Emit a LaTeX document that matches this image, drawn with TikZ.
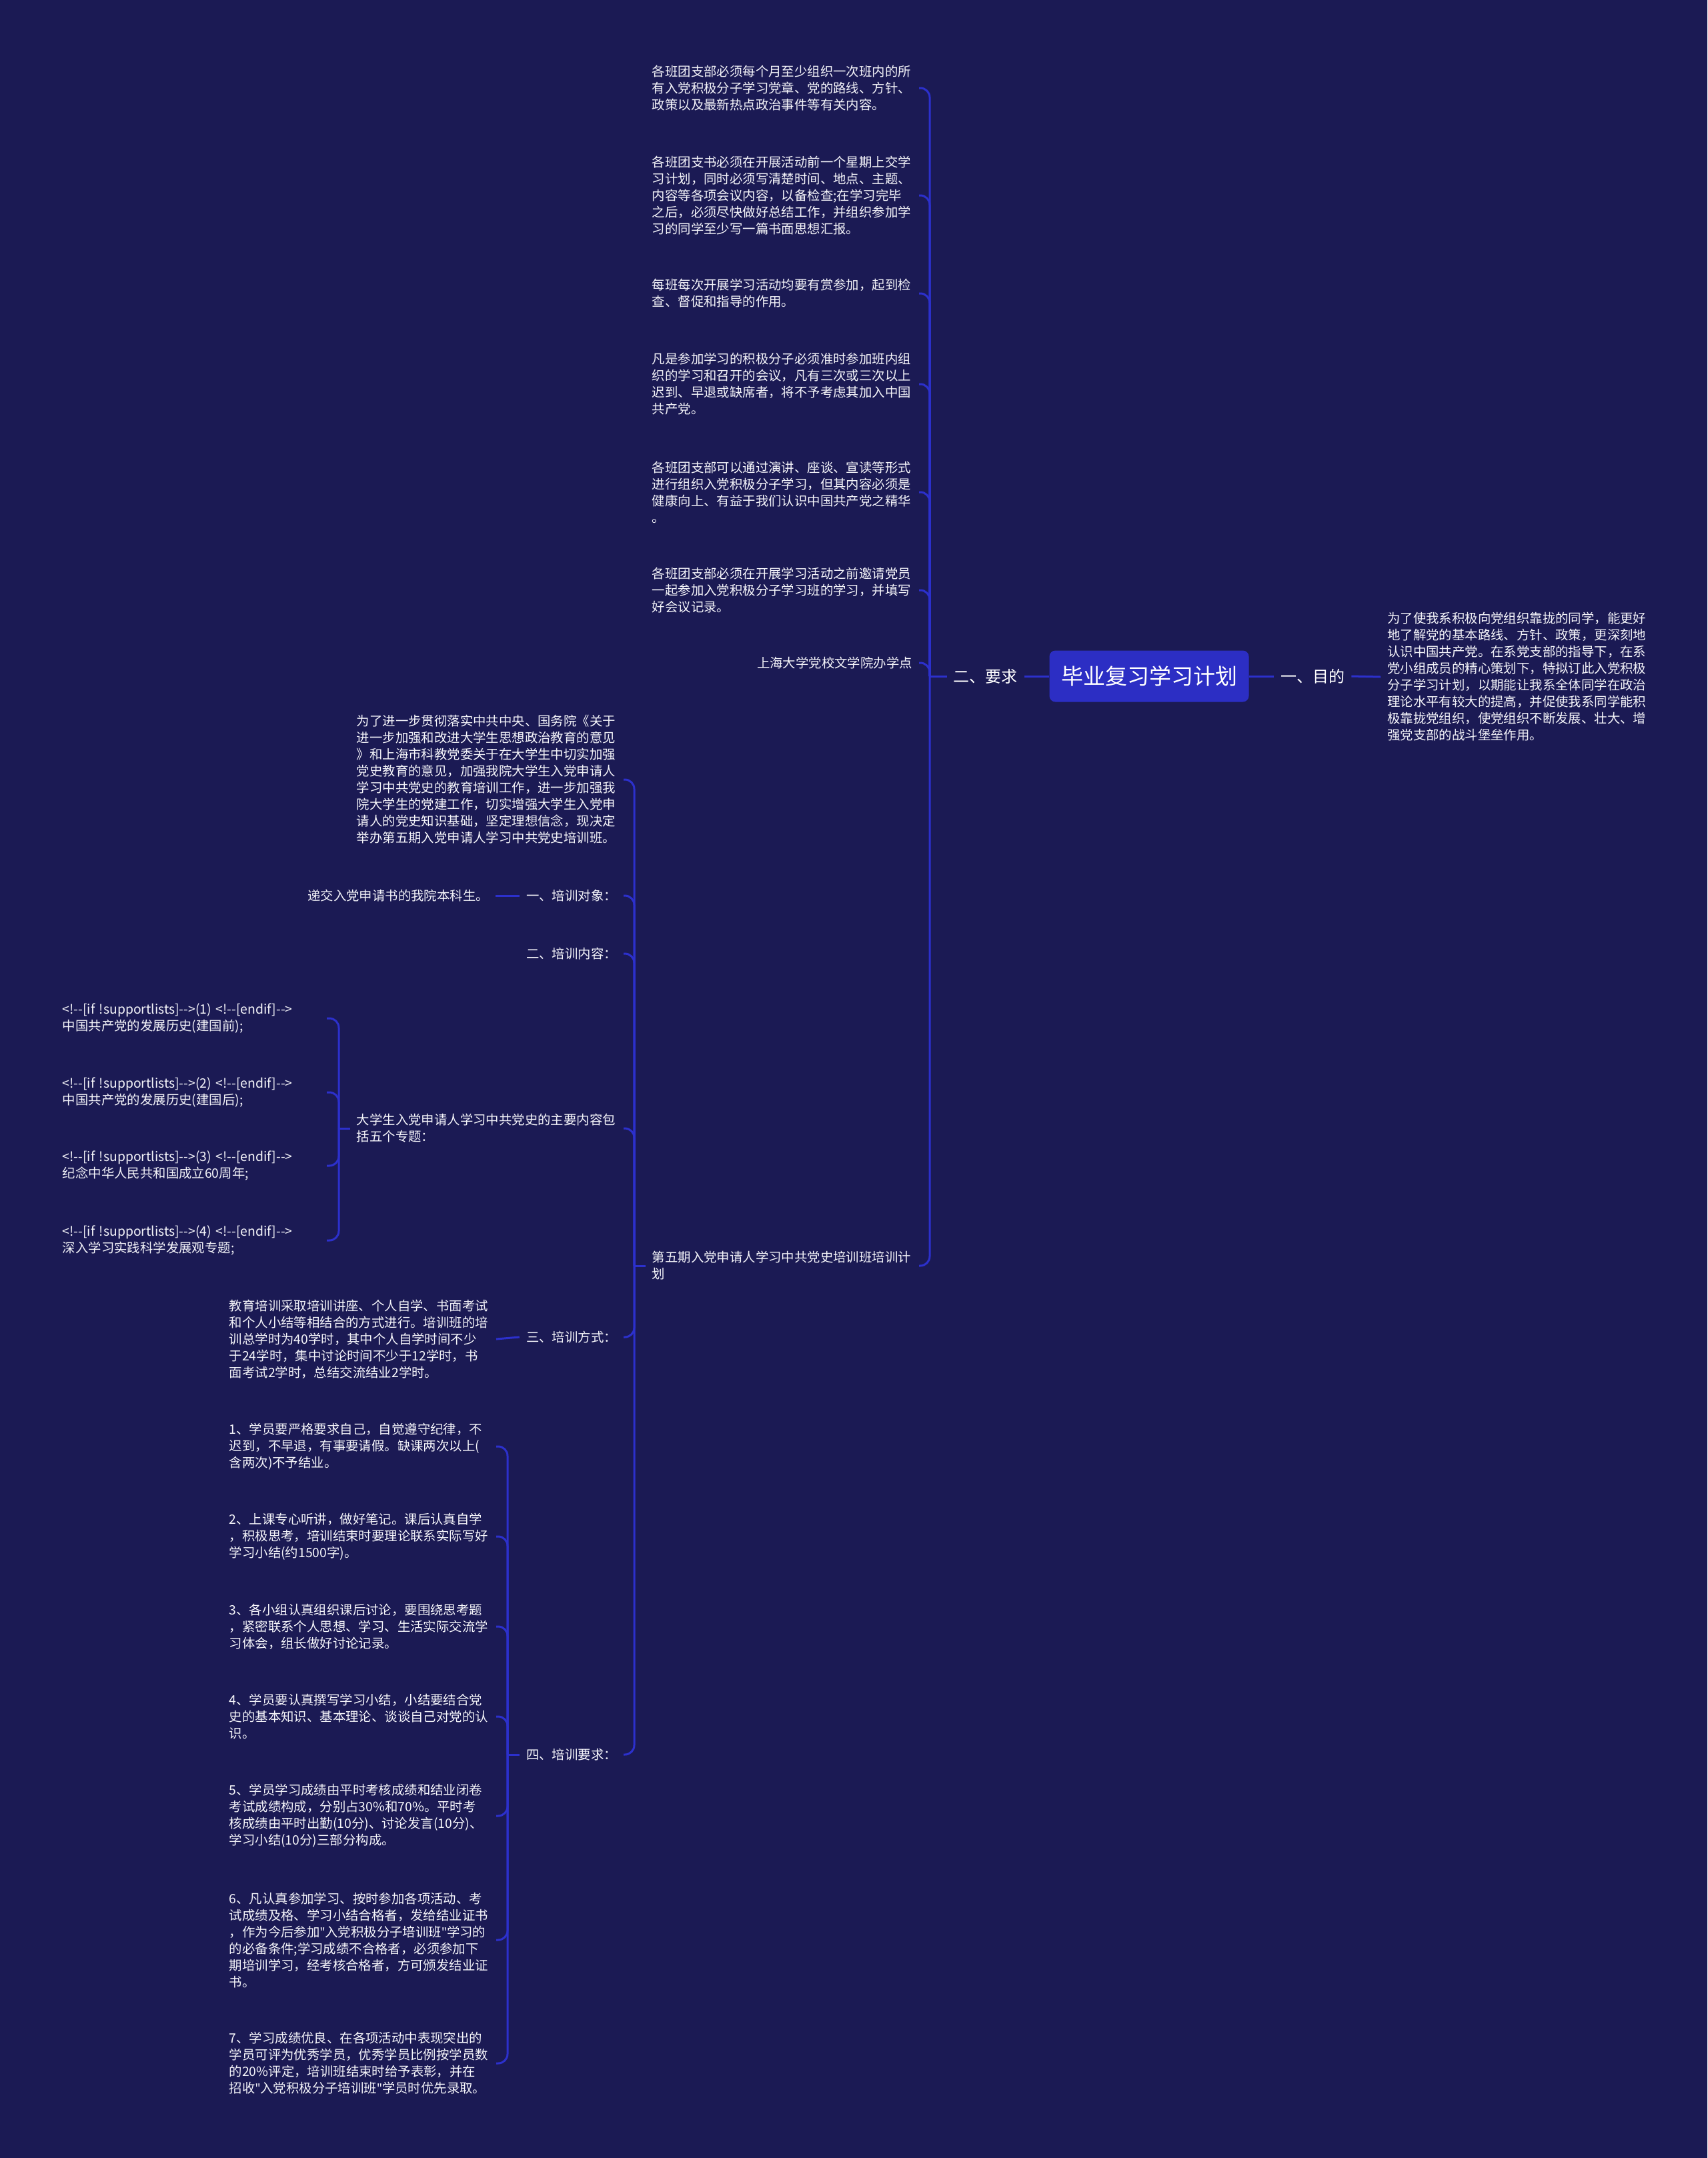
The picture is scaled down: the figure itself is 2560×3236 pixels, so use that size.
\documentclass[tikz,border=0pt]{standalone}
\usepackage{fontspec}
\setmainfont{Noto Sans CJK SC}
\newfontfamily\latf{Noto Sans}
\newcommand{\dsh}{-\kern0pt-}
\newcommand{\qt}{{\latf"}}
\definecolor{bgc}{RGB}{27,26,84}
\definecolor{rootc}{RGB}{44,46,196}
\definecolor{lc}{RGB}{44,48,204}
\definecolor{tc}{RGB}{245,245,250}
\begin{document}
\begin{tikzpicture}[x=1pt,y=-1pt,
  txt/.style={text=tc, font=\fontsize{19.4}{25}\selectfont, inner xsep=10pt, inner ysep=4pt, align=left},
  para/.style={txt, text width=390pt},
  cpara/.style={txt, text width=386pt},
  lvl/.style={text=white, font=\fontsize{24}{28}\selectfont, inner xsep=10pt, inner ysep=4pt},
  rootbox/.style={fill=rootc, rounded corners=9pt, minimum width=299pt, minimum height=77pt, text=white, font=\fontsize{33}{36}\selectfont, inner sep=0pt},
  conn/.style={draw=lc, line width=3pt, rounded corners=14pt}]
\fill[bgc] (0,0) rectangle (2560,3236);
\useasboundingbox (0,0) rectangle (2560,3236);

% root and first level
\node[rootbox] (root) at (1723,1014) {毕业复习学习计划};
\node[lvl, anchor=east] (yq) at (1536,1014) {二、要求};
\node[lvl, anchor=west] (mb) at (1910,1014) {一、目的};
\node[para, anchor=west] (mbt) at (2070,1015) {为了使我系积极向党组织靠拢的同学，能更好\\地了解党的基本路线、方针、政策，更深刻地\\认识中国共产党。在系党支部的指导下，在系\\党小组成员的精心策划下，特拟订此入党积极\\分子学习计划，以期能让我系全体同学在政治\\理论水平有较大的提高，并促使我系同学能积\\极靠拢党组织，使党组织不断发展、壮大、增\\强党支部的战斗堡垒作用。};

% children of 二、要求
\node[para, anchor=east] (r1) at (1378,132) {各班团支部必须每个月至少组织一次班内的所\\有入党积极分子学习党章、党的路线、方针、\\政策以及最新热点政治事件等有关内容。};
\node[para, anchor=east] (r2) at (1378,293) {各班团支书必须在开展活动前一个星期上交学\\习计划，同时必须写清楚时间、地点、主题、\\内容等各项会议内容，以备检查;在学习完毕\\之后，必须尽快做好总结工作，并组织参加学\\习的同学至少写一篇书面思想汇报。};
\node[para, anchor=east] (r3) at (1378,440) {每班每次开展学习活动均要有赏参加，起到检\\查、督促和指导的作用。};
\node[para, anchor=east] (r4) at (1378,576) {凡是参加学习的积极分子必须准时参加班内组\\织的学习和召开的会议，凡有三次或三次以上\\迟到、早退或缺席者，将不予考虑其加入中国\\共产党。};
\node[para, anchor=east] (r5) at (1378,738) {各班团支部可以通过演讲、座谈、宣读等形式\\进行组织入党积极分子学习，但其内容必须是\\健康向上、有益于我们认识中国共产党之精华\\。};
\node[para, anchor=east] (r6) at (1378,885) {各班团支部必须在开展学习活动之前邀请党员\\一起参加入党积极分子学习班的学习，并填写\\好会议记录。};
\node[txt, anchor=east] (r7) at (1378,994) {上海大学党校文学院办学点};
\node[para, anchor=east] (r8) at (1378,1898) {第五期入党申请人学习中共党史培训班培训计\\划};

% children of 第五期
\node[para, anchor=east] (l1) at (935,1169) {为了进一步贯彻落实中共中央、国务院《关于\\进一步加强和改进大学生思想政治教育的意见\\》和上海市科教党委关于在大学生中切实加强\\党史教育的意见，加强我院大学生入党申请人\\学习中共党史的教育培训工作，进一步加强我\\院大学生的党建工作，切实增强大学生入党申\\请人的党史知识基础，坚定理想信念，现决定\\举办第五期入党申请人学习中共党史培训班。};
\node[txt, anchor=east] (l2) at (935,1343) {一、培训对象：};
\node[txt, anchor=east] (dj) at (743,1343) {递交入党申请书的我院本科生。};
\node[txt, anchor=east] (l3) at (935,1430) {二、培训内容：};
\node[para, anchor=east] (l4) at (935,1692) {大学生入党申请人学习中共党史的主要内容包\\括五个专题：};
\node[txt, anchor=east] (l5) at (935,2005) {三、培训方式：};
\node[para, anchor=east] (jy) at (744,2008) {教育培训采取培训讲座、个人自学、书面考试\\和个人小结等相结合的方式进行。培训班的培\\训总学时为40学时，其中个人自学时间不少\\于24学时，集中讨论时间不少于12学时，书\\面考试2学时，总结交流结业2学时。};
\node[txt, anchor=east] (l6) at (935,2631) {四、培训要求：};

% five topics
\node[cpara, anchor=east] (c1) at (490,1527) {<!\dsh[if !supportlists]\dsh>(1) <!\dsh[endif]\dsh>\\中国共产党的发展历史(建国前);};
\node[cpara, anchor=east] (c2) at (490,1638) {<!\dsh[if !supportlists]\dsh>(2) <!\dsh[endif]\dsh>\\中国共产党的发展历史(建国后);};
\node[cpara, anchor=east] (c3) at (490,1748) {<!\dsh[if !supportlists]\dsh>(3) <!\dsh[endif]\dsh>\\纪念中华人民共和国成立60周年;};
\node[cpara, anchor=east] (c4) at (490,1860) {<!\dsh[if !supportlists]\dsh>(4) <!\dsh[endif]\dsh>\\深入学习实践科学发展观专题;};

% training requirements
\node[para, anchor=east] (k1) at (744,2169) {1、学员要严格要求自己，自觉遵守纪律，不\\迟到，不早退，有事要请假。缺课两次以上(\\含两次)不予结业。};
\node[para, anchor=east] (k2) at (744,2304) {2、上课专心听讲，做好笔记。课后认真自学\\，积极思考，培训结束时要理论联系实际写好\\学习小结(约1500字)。};
\node[para, anchor=east] (k3) at (744,2439) {3、各小组认真组织课后讨论，要围绕思考题\\，紧密联系个人思想、学习、生活实际交流学\\习体会，组长做好讨论记录。};
\node[para, anchor=east] (k4) at (744,2574) {4、学员要认真撰写学习小结，小结要结合党\\史的基本知识、基本理论、谈谈自己对党的认\\识。};
\node[para, anchor=east] (k5) at (744,2723) {5、学员学习成绩由平时考核成绩和结业闭卷\\考试成绩构成，分别占30\%和70\%。平时考\\核成绩由平时出勤(10分)、讨论发言(10分)、\\学习小结(10分)三部分构成。};
\node[para, anchor=east] (k6) at (744,2909) {6、凡认真参加学习、按时参加各项活动、考\\试成绩及格、学习小结合格者，发给结业证书\\，作为今后参加\qt 入党积极分子培训班\qt 学习的\\的必备条件;学习成绩不合格者，必须参加下\\期培训学习，经考核合格者，方可颁发结业证\\书。};
\node[para, anchor=east] (k7) at (744,3094) {7、学习成绩优良、在各项活动中表现突出的\\学员可评为优秀学员，优秀学员比例按学员数\\的20\%评定，培训班结束时给予表彰，并在\\招收\qt 入党积极分子培训班\qt 学员时优先录取。};

% trunk coordinates
\coordinate (t1) at (1394,1014);
\coordinate (t2) at (951,1898);
\coordinate (t3) at (508,1692);
\coordinate (t4) at (761,2631);

% connectors
\draw[conn] (root.west) -- (yq.east);
\draw[conn] (root.east) -- (mb.west);
\draw[conn] (mb.east) -- (mbt.west);
\draw[conn] (yq.west) -- (t1);
\foreach \n in {r1,r2,r3,r4,r5,r6,r7,r8} \draw[conn] (t1) |- (\n.east);
\draw[conn] (r8.west) -- (t2);
\foreach \n in {l1,l2,l3,l4,l5,l6} \draw[conn] (t2) |- (\n.east);
\draw[conn] (l2.west) -- (dj.east);
\draw[conn] (l5.west) -- (jy.east);
\draw[conn] (l4.west) -- (t3);
\foreach \n in {c1,c2,c3,c4} \draw[conn] (t3) |- (\n.east);
\draw[conn] (l6.west) -- (t4);
\foreach \n in {k1,k2,k3,k4,k5,k6,k7} \draw[conn] (t4) |- (\n.east);
\end{tikzpicture}
\end{document}
